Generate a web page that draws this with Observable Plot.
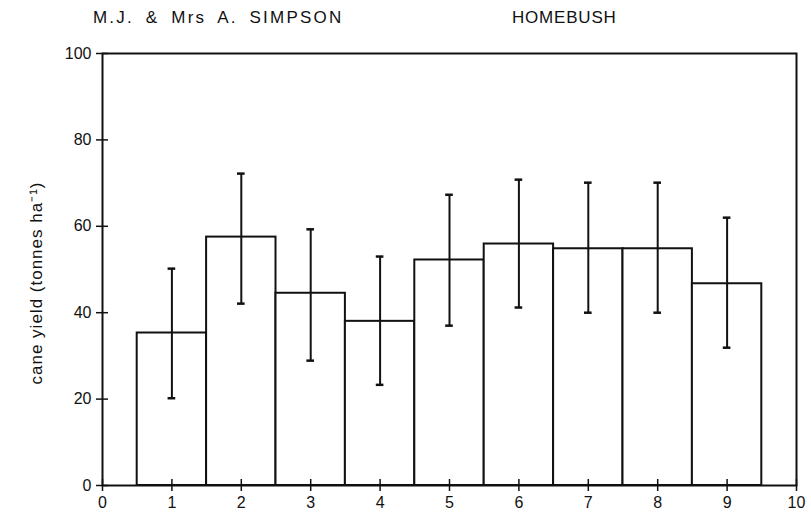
<!DOCTYPE html>
<html>
<head>
<meta charset="utf-8">
<script src="https://cdn.jsdelivr.net/npm/d3@7"></script>
<script src="https://cdn.jsdelivr.net/npm/@observablehq/plot@0.6"></script>
<style>
  html, body { margin: 0; padding: 0; background: #fff; }
  #wrap { position: relative; width: 811px; height: 522px; font-family: "Liberation Sans", Arial, sans-serif; }
  .ttl { position: absolute; top: 8px; font-size: 17px; color: #111; letter-spacing: 0.8px; white-space: nowrap; }
  #chart { position: absolute; left: 0; top: 0; }
  #chart svg text { font-size: 16px !important; }
  #ylab { position: absolute; left: 35px; top: 283px; transform: translate(-50%, -50%) rotate(-90deg);
          font-size: 17px; letter-spacing: 1px; color: #111; white-space: nowrap; }
</style>
</head>
<body>
<div id="wrap">
  <div id="chart"></div>
  <span class="ttl" id="t1" style="left:93px; letter-spacing: 2.2px; word-spacing: 5px;">M.J. &amp; Mrs A. SIMPSON</span>
  <span class="ttl" id="t2" style="left:512px">HOMEBUSH</span>
  <div id="ylab"></div>
</div>
<script>
// Data
const treatments = [1, 2, 3, 4, 5, 6, 7, 8, 9];
const meanYield  = [35.3, 57.5, 44.5, 38.0, 52.2, 55.9, 54.8, 54.8, 46.7];
const lowerBar   = [20.2, 42.1, 28.9, 23.3, 37.0, 41.2, 40.0, 40.0, 31.9];
const upperBar   = [50.2, 72.2, 59.3, 53.0, 67.3, 70.8, 70.1, 70.1, 62.0];
const xTicks = [0, 1, 2, 3, 4, 5, 6, 7, 8, 9, 10];
const yTicks = [0, 20, 40, 60, 80, 100];
const yLabel = "cane yield (tonnes ha⁻¹)";

const data = treatments.map((t, i) => ({
  t, mean: meanYield[i], lo: lowerBar[i], hi: upperBar[i]
}));
const capHalf = 0.055;

const plot = Plot.plot({
  width: 811,
  height: 522,
  marginTop: 53,
  marginBottom: 37,
  marginLeft: 102,
  marginRight: 15,
  style: { fontFamily: "'Liberation Sans', Arial, sans-serif", fontSize: "16px", color: "#111", background: "#fff" },
  x: { domain: [0, 10] },
  y: { domain: [0, 100] },
  marks: [
    Plot.rectY(data, { x1: d => d.t - 0.5, x2: d => d.t + 0.5, y1: 0, y2: "mean", fill: "white", stroke: "#111", strokeWidth: 2 }),
    Plot.ruleX(data, { x: "t", y1: "lo", y2: "hi", stroke: "#111", strokeWidth: 2 }),
    Plot.ruleY(data, { y: "hi", x1: d => d.t - capHalf, x2: d => d.t + capHalf, stroke: "#111", strokeWidth: 2.5 }),
    Plot.ruleY(data, { y: "lo", x1: d => d.t - capHalf, x2: d => d.t + capHalf, stroke: "#111", strokeWidth: 2.5 }),
    Plot.frame({ stroke: "#111", strokeWidth: 2 }),
    Plot.axisY({ ticks: yTicks, tickSize: 6, tickPadding: 5, strokeWidth: 1.5, label: null }),
    Plot.axisY({ ticks: yTicks, tickSize: 6, dx: 6, text: null, strokeWidth: 1.5, label: null }),
    Plot.axisX({ ticks: xTicks, tickSize: 6, tickPadding: 5, strokeWidth: 1.5, label: null }),
    Plot.axisX({ ticks: xTicks, tickSize: 6, dy: -6, text: null, strokeWidth: 1.5, label: null })
  ]
});
document.getElementById("chart").appendChild(plot);
document.getElementById("ylab").textContent = yLabel;
</script>
</body>
</html>
